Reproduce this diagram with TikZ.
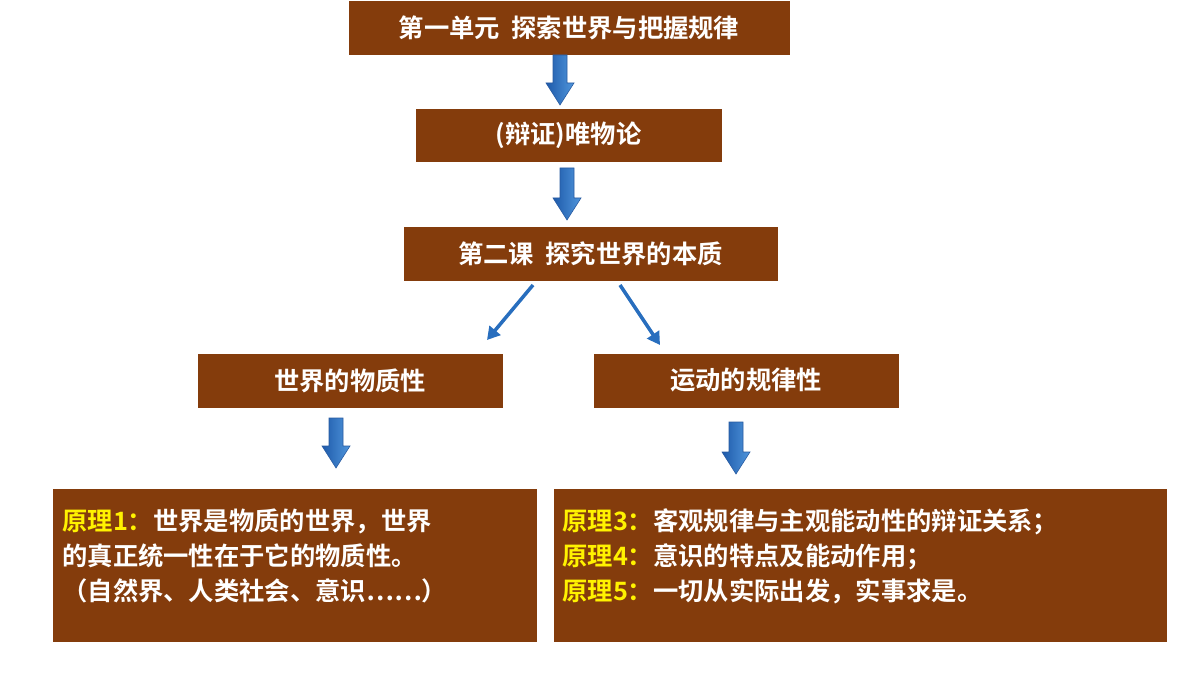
\documentclass[tikz,border=0pt]{standalone}
\usetikzlibrary{arrows.meta}
\usepackage{fontspec}
\newfontfamily\cjk{Noto Sans CJK SC}[BoldFont={Noto Sans CJK SC Bold}]
\definecolor{brn}{RGB}{132,60,12}
\definecolor{ablue}{RGB}{40,110,190}
\definecolor{adark}{RGB}{30,90,170}
\definecolor{alight}{RGB}{80,150,220}
\definecolor{aedge}{RGB}{40,90,160}
\begin{document}
\begin{tikzpicture}[x=0.025cm,y=-0.025cm,
 box/.style={fill=brn,draw=white,line width=0.6pt,text=white,font=\cjk\bfseries\fontsize{18}{22}\selectfont,inner sep=0pt},
 bigbox/.style={box,draw=none,fill=none,align=left,font=\cjk\bfseries\fontsize{18}{25}\selectfont},
 diag/.style={ablue,line width=2.5pt,-{Triangle[length=9pt,width=10pt]}}]
\useasboundingbox (0,0) rectangle (1200,675);
\newcommand{\blockarrow}[3]{%
 \shade[left color=adark,right color=alight,draw=aedge,line width=0.4pt]
 (#1-7,#2) -- (#1+7,#2) -- (#1+7,#3-22) -- (#1+14,#3-22) -- (#1,#3) -- (#1-14,#3-22) -- (#1-7,#3-22) -- cycle;}
\node[box,minimum width=442*0.025cm,minimum height=55*0.025cm] (b1) at (569,28) {第一单元\ \ 探索世界与把握规律};
\node[box,minimum width=307*0.025cm,minimum height=54*0.025cm] (b2) at (568.5,135) {(辩证)唯物论};
\node[box,minimum width=375*0.025cm,minimum height=55*0.025cm] (b3) at (590.5,253.5) {第二课\ \ 探究世界的本质};
\node[box,minimum width=306*0.025cm,minimum height=55*0.025cm] (b4) at (350,380.5) {世界的物质性};
\node[box,minimum width=306*0.025cm,minimum height=55*0.025cm] (b5) at (746,380.5) {运动的规律性};
\node[box,minimum width=485*0.025cm,minimum height=154*0.025cm] (b6) at (294.5,565) {};
\node[box,minimum width=614*0.025cm,minimum height=154*0.025cm] (b7) at (860,565) {};
\node[bigbox,anchor=north west] (t6) at (62,508) {{\color{yellow}原理1：}世界是物质的世界，世界\\的真正统一性在于它的物质性。\\（自然界、人类社会、意识……）};
\node[bigbox,anchor=north west] (t7) at (562,508) {{\color{yellow}原理3：}客观规律与主观能动性的辩证关系；\\{\color{yellow}原理4：}意识的特点及能动作用；\\{\color{yellow}原理5：}一切从实际出发，实事求是。};
\blockarrow{560}{55}{105}
\blockarrow{567}{168}{220}
\blockarrow{336}{418}{468}
\blockarrow{736}{422}{474}
\coordinate (d1) at (533,285); \coordinate (e1) at (487,340);
\coordinate (d2) at (620,285); \coordinate (e2) at (660,345);
\draw[diag] (d1) -- (e1);
\draw[diag] (d2) -- (e2);
\end{tikzpicture}
\end{document}
